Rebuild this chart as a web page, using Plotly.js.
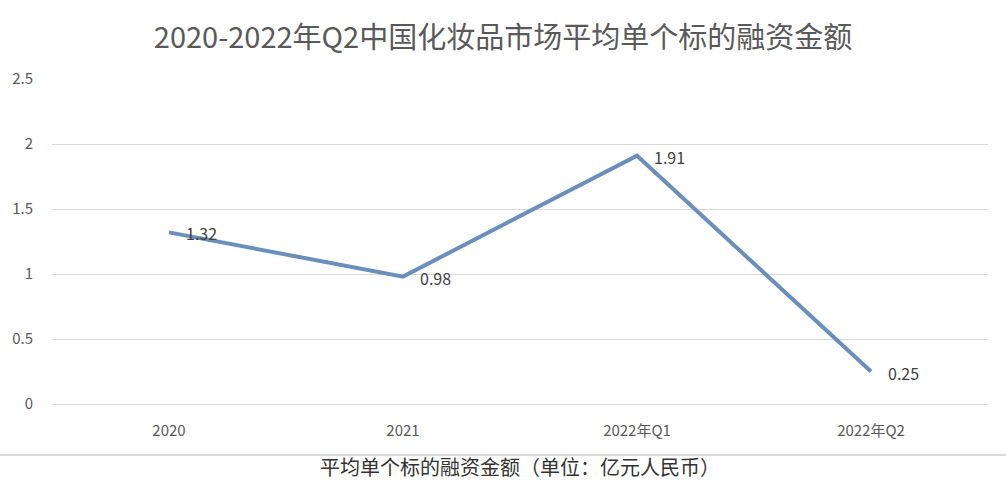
<!DOCTYPE html>
<html>
<head>
<meta charset="utf-8">
<script src="https://cdn.plot.ly/plotly-3.0.1.min.js"></script>
<style>html,body{margin:0;padding:0;background:#fff;}#chart{width:1006px;height:481px;}</style>
</head>
<body>
<div id="chart"></div>
<script>
const categories = ["2020", "2021", "2022年Q1", "2022年Q2"];
const values = [1.32, 0.98, 1.91, 0.25];
const valueLabels = ["1.32", "0.98", "1.91", "0.25"];
const yTicks = [0, 0.5, 1, 1.5, 2, 2.5];
const yTickText = ["0", "0.5", "1", "1.5", "2", "2.5"];

const font = '"Noto Sans CJK SC", "Noto Sans", sans-serif';

const trace = {
  x: categories,
  y: values,
  type: 'scatter',
  mode: 'lines',
  line: {color: '#6b8fbd', width: 4},
  cliponaxis: false,
  hoverinfo: 'x+y'
};

// category axis: annotation x given as the category's index position
const labelAnnotations = categories.map((c, i) => ({
  x: i, y: values[i], xref: 'x', yref: 'y',
  text: valueLabels[i], showarrow: false,
  xanchor: 'left', yanchor: 'middle', xshift: 15, yshift: -1,
  font: {family: font, size: 16, color: '#404040'}
}));

const layout = {
  width: 1006,
  height: 481,
  margin: {l: 52, r: 18, t: 79, b: 77},
  paper_bgcolor: '#ffffff',
  plot_bgcolor: '#ffffff',
  showlegend: false,
  title: {
    text: '2020-2022年Q2中国化妆品市场平均单个标的融资金额',
    font: {family: font, size: 29, color: '#595959'},
    x: 0.5, xanchor: 'center', y: 0.921, yanchor: 'middle'
  },
  xaxis: {
    type: 'category',
    categoryorder: 'array',
    categoryarray: categories,
    range: [-0.5, 3.5],
    showgrid: false,
    zeroline: false,
    showline: false,
    ticks: '',
    ticklabelstandoff: 16,
    tickfont: {family: font, size: 15, color: '#595959'},
    title: {
      text: '平均单个标的融资金额（单位：亿元人民币）',
      font: {family: font, size: 20, color: '#333333'},
      standoff: 22
    }
  },
  yaxis: {
    range: [0, 2.5],
    tickvals: yTicks,
    ticktext: yTickText,
    showgrid: true,
    gridcolor: '#d9d9d9',
    gridwidth: 1,
    zeroline: true,
    zerolinecolor: '#d9d9d9',
    showline: false,
    ticks: '',
    ticklabelstandoff: 18,
    tickfont: {family: font, size: 15, color: '#595959'}
  },
  annotations: labelAnnotations,
  shapes: [{
    type: 'line', xref: 'paper', yref: 'paper',
    x0: -0.06, x1: 1.03, y0: -0.157, y1: -0.157,
    line: {color: '#d9d9d9', width: 2}
  }]
};

Plotly.newPlot('chart', [trace], layout, {displayModeBar: false, staticPlot: true});
</script>
</body>
</html>
